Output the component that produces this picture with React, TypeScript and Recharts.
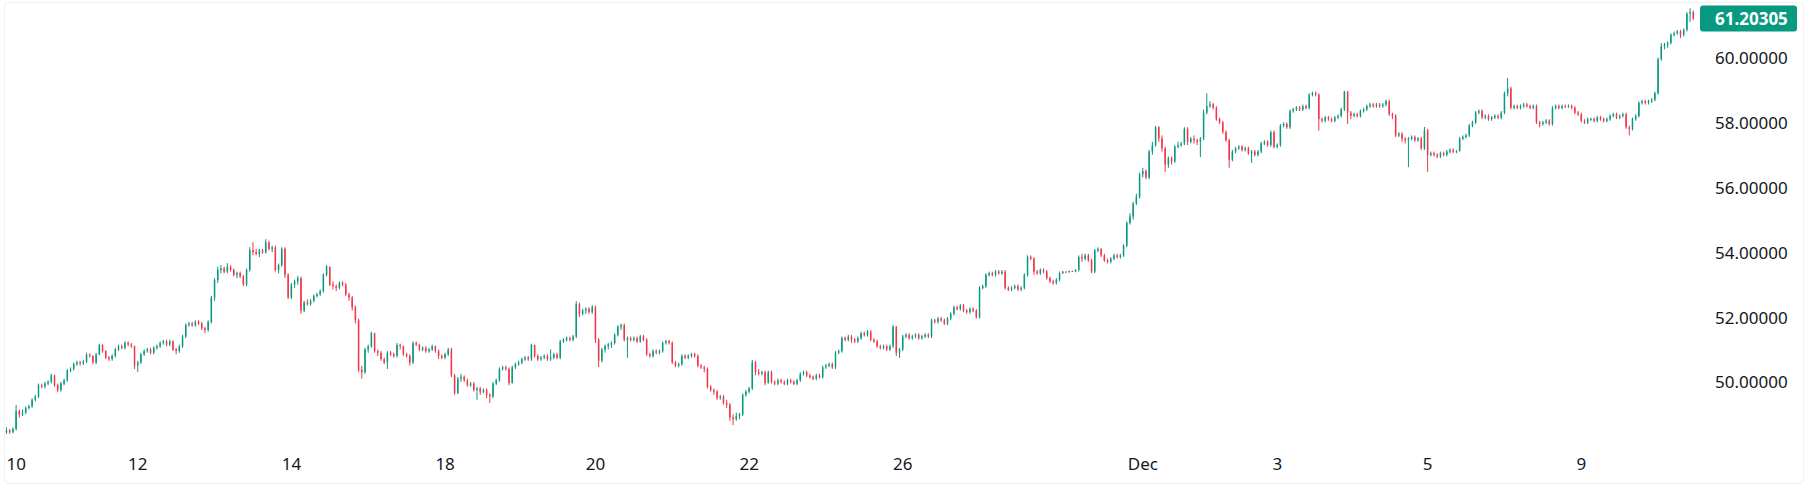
import { BarChart, Bar, XAxis, YAxis, ReferenceLine } from 'recharts';

// hourly candles, open of each bar = close of the bar before
const firstOpen = 48.45;

const closes = [
  48.5, 48.45, 48.55, 49.1, 49.0, 49.05, 49.2, 49.25, 49.45, 49.55, 49.9, 49.85, // 0
  49.95, 50.0, 50.2, 49.9, 49.75, 49.95, 50.05, 50.35, 50.4, 50.55, 50.6, 50.58, // 12
  50.62, 50.84, 50.8, 50.6, 50.85, 51.14, 50.95, 50.75, 50.7, 50.8, 51.0, 51.1, // 24
  51.05, 51.2, 51.15, 51.1, 50.5, 50.6, 50.85, 50.95, 51.0, 50.9, 51.05, 51.1, // 36
  51.2, 51.25, 51.15, 51.25, 51.0, 50.95, 51.1, 51.4, 51.76, 51.8, 51.75, 51.85, // 48
  51.8, 51.65, 51.6, 51.85, 52.6, 53.14, 53.45, 53.5, 53.4, 53.55, 53.45, 53.3, // 60
  53.35, 53.25, 53.0, 53.45, 54.07, 54.0, 53.95, 54.05, 54.0, 54.3, 54.1, 54.15, // 72
  53.45, 53.6, 54.1, 53.3, 52.6, 53.0, 53.1, 53.2, 52.2, 52.45, 52.4, 52.5, // 84
  52.65, 52.7, 52.8, 53.3, 53.55, 53.0, 52.95, 52.9, 53.05, 53.0, 52.7, 52.6, // 96
  52.3, 51.9, 50.37, 50.3, 51.0, 51.1, 51.5, 50.95, 50.9, 50.7, 50.6, 50.9, // 108
  50.85, 50.8, 51.14, 51.1, 50.85, 50.8, 50.6, 51.2, 51.15, 51.0, 51.05, 50.95, // 120
  51.0, 51.1, 50.95, 50.8, 50.75, 50.85, 51.0, 50.2, 49.66, 50.1, 50.15, 50.05, // 132
  49.9, 49.95, 49.75, 49.8, 49.7, 49.75, 49.6, 49.55, 49.95, 50.05, 50.4, 50.45, // 144
  50.4, 49.97, 50.45, 50.55, 50.6, 50.7, 50.75, 50.7, 51.14, 50.8, 50.7, 50.75, // 156
  50.8, 50.7, 50.75, 50.85, 50.75, 51.25, 51.3, 51.35, 51.3, 51.4, 52.4, 52.1, // 168
  52.2, 52.25, 52.15, 52.3, 51.3, 50.65, 51.0, 51.1, 51.15, 51.2, 51.45, 51.7, // 180
  51.75, 51.3, 51.35, 51.3, 51.35, 51.25, 51.4, 51.3, 50.85, 50.8, 50.95, 50.9, // 192
  50.95, 51.2, 51.25, 51.2, 50.6, 50.5, 50.55, 50.8, 50.75, 50.8, 50.85, 50.8, // 204
  50.5, 50.45, 50.4, 49.85, 49.75, 49.7, 49.5, 49.55, 49.35, 49.3, 48.9, 48.85, // 216
  48.95, 49.0, 49.6, 49.7, 49.8, 50.6, 50.3, 50.25, 50.3, 49.97, 50.3, 50.0, // 228
  49.95, 50.05, 50.0, 49.95, 50.05, 50.0, 49.95, 50.05, 50.25, 50.3, 50.2, 50.15, // 240
  50.1, 50.2, 50.15, 50.45, 50.5, 50.55, 50.45, 50.9, 50.95, 51.35, 51.3, 51.4, // 252
  51.3, 51.25, 51.35, 51.5, 51.45, 51.55, 51.3, 51.25, 51.1, 51.05, 51.1, 51.0, // 264
  51.1, 51.7, 50.9, 51.0, 51.4, 51.45, 51.35, 51.4, 51.45, 51.35, 51.4, 51.45, // 276
  51.4, 51.9, 51.85, 51.95, 51.9, 51.8, 51.95, 52.1, 52.3, 52.25, 52.35, 52.2, // 288
  52.15, 52.25, 52.2, 52.0, 52.9, 52.95, 53.3, 53.35, 53.3, 53.4, 53.35, 53.4, // 300
  52.9, 52.85, 52.9, 52.95, 52.85, 52.9, 53.3, 53.85, 53.8, 53.4, 53.35, 53.45, // 312
  53.4, 53.2, 53.1, 53.05, 53.15, 53.35, 53.4, 53.38, 53.42, 53.4, 53.45, 53.85, // 324
  53.8, 53.9, 53.75, 53.4, 54.05, 54.1, 53.9, 53.75, 53.7, 53.8, 53.9, 53.85, // 336
  53.9, 54.2, 54.9, 55.1, 55.5, 55.7, 56.4, 56.5, 56.3, 57.1, 57.3, 57.85, // 348
  57.5, 57.2, 56.7, 56.9, 56.8, 57.25, 57.3, 57.35, 57.8, 57.4, 57.5, 57.45, // 360
  57.4, 57.5, 58.3, 58.5, 58.55, 58.45, 58.1, 58.0, 57.7, 57.45, 56.85, 57.1, // 372
  57.2, 57.25, 57.15, 57.2, 57.05, 57.1, 57.0, 57.1, 57.35, 57.4, 57.3, 57.7, // 384
  57.25, 57.3, 57.9, 57.95, 57.85, 58.35, 58.4, 58.45, 58.4, 58.5, 58.45, 58.85, // 396
  58.9, 58.85, 58.1, 58.05, 58.15, 58.1, 58.05, 58.15, 58.2, 58.4, 58.95, 58.3, // 408
  58.2, 58.25, 58.2, 58.35, 58.4, 58.5, 58.55, 58.5, 58.55, 58.5, 58.55, 58.65, // 420
  58.25, 58.2, 57.6, 57.65, 57.5, 57.45, 57.5, 57.55, 57.45, 57.5, 57.2, 57.75, // 432
  57.0, 57.05, 57.0, 56.95, 57.05, 57.0, 57.1, 57.15, 57.1, 57.12, 57.5, 57.55, // 444
  57.6, 57.9, 58.0, 58.3, 58.35, 58.15, 58.2, 58.1, 58.15, 58.2, 58.15, 58.3, // 456
  58.9, 59.05, 58.45, 58.5, 58.45, 58.5, 58.55, 58.5, 58.45, 58.5, 58.0, 57.95, // 468
  58.0, 58.05, 57.95, 58.45, 58.5, 58.45, 58.5, 58.48, 58.5, 58.45, 58.3, 58.25, // 480
  58.05, 58.0, 58.1, 58.1, 58.05, 58.15, 58.1, 58.05, 58.1, 58.2, 58.25, 58.15, // 492
  58.2, 58.25, 57.85, 57.8, 58.1, 58.2, 58.6, 58.65, 58.6, 58.65, 58.7, 58.9, // 504
  59.95, 60.35, 60.4, 60.45, 60.7, 60.75, 60.8, 60.7, 60.85, 61.35, 61.4, 61.20305, // 516
];

const highs = [
  48.6, 48.55, 48.6, 49.29, 49.15, 49.15, 49.25, 49.3, 49.5, 49.6, 49.95, 49.95,
  50.0, 50.05, 50.25, 50.22, 49.95, 50.0, 50.1, 50.4, 50.45, 50.6, 50.65, 50.65,
  50.68, 50.9, 50.88, 50.82, 50.9, 51.18, 51.16, 50.98, 50.8, 50.85, 51.05, 51.15,
  51.15, 51.25, 51.25, 51.2, 51.12, 50.65, 50.9, 51.0, 51.05, 51.05, 51.1, 51.15,
  51.25, 51.3, 51.3, 51.3, 51.28, 51.05, 51.15, 51.45, 51.8, 51.85, 51.85, 51.9,
  51.9, 51.85, 51.7, 51.9, 52.65, 53.2, 53.55, 53.6, 53.55, 53.66, 53.6, 53.5,
  53.4, 53.4, 53.3, 53.5, 54.15, 54.31, 54.1, 54.1, 54.1, 54.4, 54.35, 54.2,
  54.2, 53.65, 54.15, 54.15, 53.35, 53.05, 53.15, 53.27, 53.25, 52.5, 52.55, 52.55,
  52.7, 52.75, 52.85, 53.35, 53.6, 53.56, 53.1, 53.0, 53.1, 53.1, 53.05, 52.75,
  52.65, 52.35, 51.95, 50.5, 51.05, 51.15, 51.55, 51.52, 51.0, 50.95, 50.75, 50.95,
  50.95, 50.9, 51.2, 51.18, 51.12, 50.9, 50.85, 51.25, 51.25, 51.18, 51.1, 51.1,
  51.05, 51.15, 51.12, 51.0, 50.85, 50.9, 51.05, 51.05, 50.25, 50.15, 50.25, 50.2,
  50.1, 50.0, 50.0, 49.85, 49.85, 49.8, 49.8, 49.65, 50.0, 50.1, 50.45, 50.5,
  50.5, 50.45, 50.5, 50.6, 50.65, 50.75, 50.8, 50.8, 51.18, 51.15, 50.85, 50.8,
  50.85, 50.85, 51.0, 50.9, 50.9, 51.3, 51.35, 51.4, 51.4, 51.45, 52.49, 52.45,
  52.25, 52.3, 52.3, 52.37, 52.35, 51.35, 51.05, 51.15, 51.2, 51.25, 51.5, 51.75,
  51.8, 51.8, 51.4, 51.4, 51.4, 51.4, 51.45, 51.45, 51.35, 50.9, 51.0, 51.0,
  51.0, 51.25, 51.3, 51.3, 51.25, 50.65, 50.6, 50.85, 50.85, 50.85, 50.9, 50.9,
  50.85, 50.55, 50.5, 50.45, 49.9, 49.8, 49.75, 49.6, 49.6, 49.45, 49.35, 49.0,
  49.05, 49.05, 49.65, 49.75, 49.85, 50.68, 50.65, 50.4, 50.35, 50.35, 50.35, 50.35,
  50.05, 50.1, 50.1, 50.05, 50.1, 50.1, 50.05, 50.1, 50.3, 50.35, 50.35, 50.25,
  50.2, 50.25, 50.25, 50.5, 50.55, 50.6, 50.6, 50.95, 51.0, 51.4, 51.4, 51.45,
  51.45, 51.35, 51.4, 51.55, 51.55, 51.6, 51.6, 51.35, 51.3, 51.15, 51.15, 51.15,
  51.15, 51.76, 51.72, 51.05, 51.45, 51.5, 51.5, 51.45, 51.5, 51.5, 51.45, 51.5,
  51.5, 51.95, 51.95, 52.0, 52.0, 51.95, 52.0, 52.15, 52.35, 52.35, 52.4, 52.4,
  52.25, 52.3, 52.3, 52.25, 52.95, 53.0, 53.35, 53.4, 53.4, 53.45, 53.45, 53.45,
  53.45, 52.95, 52.95, 53.0, 53.0, 52.95, 53.35, 53.9, 53.9, 53.85, 53.45, 53.5,
  53.5, 53.45, 53.25, 53.15, 53.2, 53.4, 53.42, 53.41, 53.43, 53.43, 53.48, 53.9,
  53.95, 53.95, 53.95, 53.8, 54.1, 54.15, 54.12, 53.95, 53.8, 53.85, 53.95, 53.95,
  53.95, 54.25, 54.95, 55.2, 55.55, 55.8, 56.45, 56.6, 56.55, 57.15, 57.4, 57.89,
  57.88, 57.6, 57.25, 56.95, 56.95, 57.3, 57.4, 57.4, 57.85, 57.85, 57.55, 57.6,
  57.5, 57.55, 58.4, 58.9, 58.65, 58.6, 58.5, 58.15, 58.05, 57.75, 57.5, 57.15,
  57.25, 57.3, 57.3, 57.25, 57.25, 57.15, 57.15, 57.15, 57.4, 57.45, 57.45, 57.75,
  57.75, 57.35, 57.95, 58.0, 58.0, 58.4, 58.45, 58.5, 58.5, 58.55, 58.55, 58.9,
  58.95, 58.95, 58.9, 58.15, 58.2, 58.2, 58.15, 58.2, 58.25, 58.45, 58.97, 58.97,
  58.35, 58.3, 58.3, 58.4, 58.45, 58.55, 58.6, 58.6, 58.6, 58.6, 58.6, 58.7,
  58.7, 58.3, 58.25, 57.7, 57.7, 57.55, 57.55, 57.6, 57.6, 57.55, 57.55, 57.86,
  57.8, 57.1, 57.1, 57.05, 57.1, 57.1, 57.15, 57.2, 57.2, 57.15, 57.55, 57.6,
  57.65, 57.95, 58.05, 58.35, 58.4, 58.4, 58.25, 58.25, 58.2, 58.25, 58.25, 58.35,
  58.95, 59.37, 59.1, 58.55, 58.55, 58.55, 58.6, 58.6, 58.55, 58.55, 58.55, 58.05,
  58.05, 58.1, 58.1, 58.5, 58.55, 58.55, 58.55, 58.55, 58.55, 58.55, 58.5, 58.35,
  58.3, 58.1, 58.15, 58.15, 58.15, 58.2, 58.2, 58.15, 58.15, 58.25, 58.3, 58.3,
  58.25, 58.3, 58.3, 57.9, 58.15, 58.25, 58.65, 58.7, 58.7, 58.7, 58.75, 58.95,
  60.0, 60.45, 60.45, 60.5, 60.75, 60.8, 60.85, 60.85, 60.9, 61.4, 61.52, 61.45,
];

const lows = [
  48.4, 48.4, 48.42, 48.5, 48.9, 48.95, 49.0, 49.15, 49.2, 49.4, 49.5, 49.8,
  49.8, 49.9, 49.95, 49.85, 49.68, 49.7, 49.9, 50.0, 50.3, 50.35, 50.5, 50.5,
  50.52, 50.58, 50.75, 50.55, 50.55, 50.82, 50.9, 50.7, 50.65, 50.65, 50.75, 50.95,
  51.0, 51.0, 51.1, 51.05, 50.4, 50.31, 50.55, 50.8, 50.9, 50.85, 50.85, 51.0,
  51.05, 51.15, 51.1, 51.1, 50.95, 50.85, 50.9, 51.05, 51.35, 51.7, 51.7, 51.7,
  51.75, 51.6, 51.5, 51.55, 51.8, 52.5, 53.05, 53.35, 53.35, 53.35, 53.4, 53.25,
  53.2, 53.2, 52.95, 52.95, 53.4, 53.9, 53.9, 53.85, 53.95, 53.95, 54.05, 54.0,
  53.4, 53.35, 53.55, 53.2, 52.55, 52.55, 52.9, 53.0, 52.1, 52.15, 52.35, 52.35,
  52.45, 52.6, 52.65, 52.75, 53.25, 52.95, 52.85, 52.8, 52.85, 52.95, 52.65, 52.5,
  52.2, 51.8, 50.3, 50.1, 50.25, 50.9, 51.05, 50.9, 50.8, 50.65, 50.55, 50.4,
  50.8, 50.75, 50.75, 51.0, 50.8, 50.75, 50.5, 50.55, 51.1, 50.95, 50.95, 50.9,
  50.9, 50.95, 50.9, 50.7, 50.7, 50.7, 50.8, 50.15, 49.6, 49.62, 50.0, 50.0,
  49.85, 49.85, 49.7, 49.45, 49.6, 49.65, 49.5, 49.35, 49.5, 49.9, 50.0, 50.35,
  50.35, 49.9, 49.95, 50.4, 50.5, 50.55, 50.65, 50.65, 50.65, 50.75, 50.65, 50.65,
  50.7, 50.65, 50.65, 50.7, 50.7, 50.7, 51.2, 51.25, 51.25, 51.25, 51.35, 52.0,
  52.05, 52.1, 52.1, 52.1, 51.2, 50.46, 50.6, 50.9, 51.0, 51.05, 51.15, 51.4,
  51.6, 51.25, 50.74, 51.25, 51.25, 51.2, 51.2, 51.25, 50.8, 50.75, 50.75, 50.85,
  50.85, 50.9, 51.15, 51.15, 50.55, 50.45, 50.45, 50.5, 50.7, 50.7, 50.75, 50.75,
  50.45, 50.4, 50.3, 49.8, 49.7, 49.6, 49.45, 49.45, 49.3, 49.2, 48.8, 48.67,
  48.8, 48.85, 48.95, 49.55, 49.65, 49.75, 50.2, 50.2, 50.2, 49.9, 49.95, 49.95,
  49.9, 49.9, 49.95, 49.9, 49.9, 49.95, 49.9, 49.9, 50.0, 50.2, 50.15, 50.1,
  50.05, 50.05, 50.1, 50.1, 50.4, 50.45, 50.4, 50.4, 50.85, 50.9, 51.25, 51.25,
  51.2, 51.2, 51.2, 51.3, 51.4, 51.4, 51.25, 51.2, 51.05, 51.0, 51.0, 50.95,
  50.95, 51.05, 50.8, 50.74, 50.95, 51.35, 51.3, 51.3, 51.35, 51.3, 51.3, 51.35,
  51.35, 51.35, 51.8, 51.8, 51.85, 51.75, 51.75, 51.9, 52.05, 52.2, 52.2, 52.15,
  52.1, 52.1, 52.15, 51.95, 51.95, 52.85, 52.9, 53.25, 53.25, 53.25, 53.3, 53.3,
  52.85, 52.8, 52.8, 52.85, 52.8, 52.8, 52.85, 53.25, 53.75, 53.3, 53.3, 53.3,
  53.35, 53.15, 53.05, 53.0, 53.0, 53.1, 53.33, 53.37, 53.37, 53.39, 53.38, 53.4,
  53.7, 53.75, 53.7, 53.35, 53.35, 54.0, 53.85, 53.7, 53.65, 53.65, 53.75, 53.8,
  53.8, 53.85, 54.15, 54.85, 55.0, 55.45, 55.65, 56.3, 56.25, 56.25, 57.0, 57.25,
  57.4, 57.1, 56.47, 56.6, 56.7, 56.75, 57.2, 57.25, 57.3, 57.3, 57.35, 57.35,
  57.3, 56.93, 57.45, 58.25, 58.45, 58.4, 58.05, 57.95, 57.65, 57.4, 56.6, 56.8,
  57.05, 57.15, 57.1, 57.1, 57.0, 56.75, 56.95, 56.95, 57.05, 57.3, 57.25, 57.25,
  57.2, 57.2, 57.25, 57.85, 57.8, 57.8, 58.3, 58.35, 58.35, 58.35, 58.4, 58.4,
  58.8, 58.8, 57.75, 58.0, 58.0, 58.05, 58.0, 58.0, 58.1, 58.15, 58.35, 57.95,
  58.1, 58.15, 58.15, 58.15, 58.3, 58.35, 58.45, 58.45, 58.45, 58.45, 58.45, 58.5,
  58.2, 58.1, 57.55, 57.55, 57.4, 57.35, 56.62, 57.45, 57.4, 57.4, 57.15, 57.15,
  56.47, 56.95, 56.95, 56.9, 56.9, 56.95, 56.95, 57.05, 57.05, 57.05, 57.1, 57.45,
  57.5, 57.55, 57.85, 57.95, 58.25, 58.1, 58.1, 58.05, 58.05, 58.1, 58.1, 58.1,
  58.25, 58.8, 58.4, 58.4, 58.4, 58.4, 58.45, 58.45, 58.4, 58.4, 57.95, 57.85,
  57.9, 57.95, 57.9, 57.9, 58.4, 58.4, 58.4, 58.45, 58.45, 58.4, 58.25, 58.2,
  58.0, 57.95, 57.95, 58.05, 58.0, 58.0, 58.05, 58.0, 58.0, 58.05, 58.15, 58.1,
  58.1, 58.15, 57.8, 57.6, 57.75, 58.05, 58.15, 58.55, 58.55, 58.55, 58.6, 58.65,
  58.85, 59.9, 60.25, 60.3, 60.4, 60.65, 60.7, 60.6, 60.65, 60.8, 61.1, 61.15,
];

const priceTicks = [50, 52, 54, 56, 58, 60];
const timeTickBars = [3, 41, 89, 137, 184, 232, 280, 355, 397, 444, 492];
const timeTickLabels = ['10', '12', '14', '18', '20', '22', '26', 'Dec', '3', '5', '9'];

const UP = '#089981';
const DOWN = '#F23645';
const TEXT = '#131722';
const FONT = '"Noto Sans", "Open Sans", sans-serif';

const lastClose = closes[closes.length - 1];

const data = closes.map((close, i) => ({
  i,
  open: i === 0 ? firstOpen : closes[i - 1],
  close,
  high: highs[i],
  low: lows[i],
  range: [lows[i], highs[i]],
}));

function Candle(props: any) {
  const { x, y, width, height, payload } = props;
  if (x == null || y == null || !payload) return null;
  const { open, close, high, low } = payload;
  const yTop = Math.min(y, y + height);
  const yBot = Math.max(y, y + height);
  const span = high - low;
  const toY = (p: number) => (span > 0 ? yTop + ((high - p) / span) * (yBot - yTop) : yTop);
  const cx = x + width / 2;
  const color = close >= open ? UP : DOWN;
  const bodyTop = toY(Math.max(open, close));
  const bodyBot = toY(Math.min(open, close));
  return (
    <g>
      <line x1={cx} x2={cx} y1={yTop} y2={yBot} stroke={color} strokeWidth={1} />
      <rect x={cx - 0.75} y={bodyTop} width={1.5} height={Math.max(bodyBot - bodyTop, 1)} fill={color} />
    </g>
  );
}

function TimeTick(props: any) {
  const { x, payload } = props;
  const label = timeTickLabels[timeTickBars.indexOf(Number(payload.value))];
  return (
    <text x={x} y={463} textAnchor="middle" dominantBaseline="central" fill={TEXT} fontSize={17} fontFamily={FONT}>
      {label}
    </text>
  );
}

function PriceTick(props: any) {
  const { y, payload } = props;
  return (
    <text x={1715} y={y} dominantBaseline="central" fill={TEXT} fontSize={17} fontFamily={FONT}>
      {Number(payload.value).toFixed(5)}
    </text>
  );
}

function PriceTag(props: any) {
  const vb = props.viewBox;
  if (!vb) return null;
  const y = vb.y;
  return (
    <g>
      <rect x={1700} y={y - 13} width={97} height={26} rx={3} fill={UP} />
      <text x={1715} y={y} dominantBaseline="central" fill="#ffffff" fontSize={17} fontWeight={700} fontFamily={FONT}>
        {lastClose.toFixed(5)}
      </text>
    </g>
  );
}

export default function App() {
  return (
    <div style={{ position: 'absolute', left: 0, top: 0, width: 1808, height: 490, background: '#ffffff' }}>
      <div
        style={{
          position: 'absolute',
          left: 4,
          top: 2,
          width: 1800,
          height: 482,
          border: '1px solid #eef0f3',
          borderRadius: 4,
          boxSizing: 'border-box',
        }}
      />
      <BarChart
        width={1808}
        height={490}
        data={data}
        margin={{ top: 3, right: 0, bottom: 20, left: 5 }}
        barCategoryGap={0}
      >
        <XAxis
          dataKey="i"
          ticks={timeTickBars}
          interval={0}
          axisLine={false}
          tickLine={false}
          height={30}
          tick={<TimeTick />}
        />
        <YAxis
          orientation="right"
          width={113}
          domain={[48.21, 61.68]}
          allowDataOverflow
          ticks={priceTicks}
          axisLine={false}
          tickLine={false}
          tick={<PriceTick />}
        />
        <Bar dataKey="range" isAnimationActive={false} shape={<Candle />} />
        <ReferenceLine y={lastClose} stroke="transparent" ifOverflow="visible" label={<PriceTag />} />
      </BarChart>
    </div>
  );
}
